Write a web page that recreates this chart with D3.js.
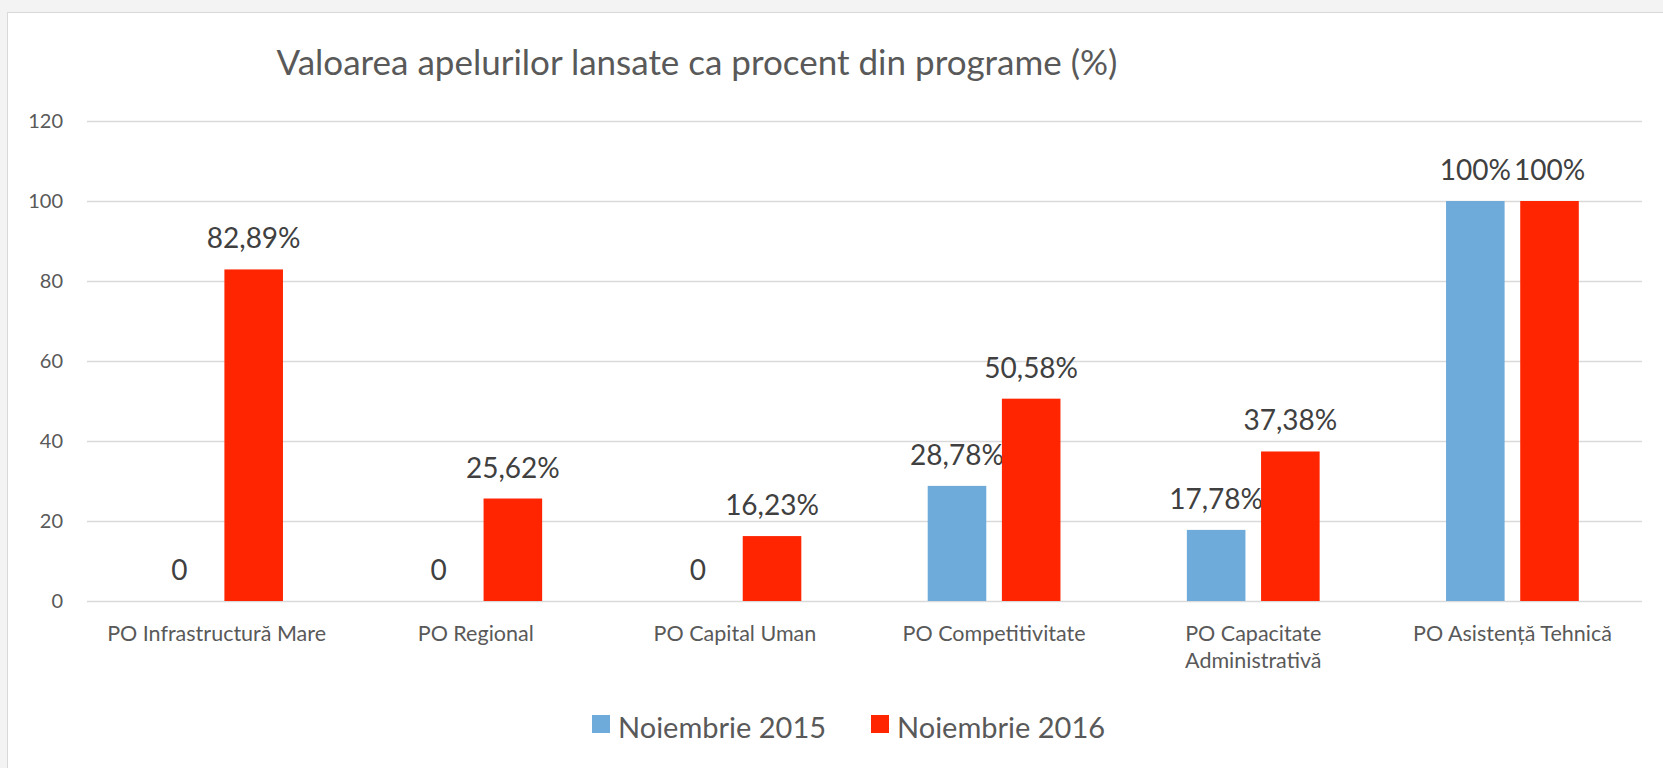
<!DOCTYPE html>
<html>
<head>
<meta charset="utf-8">
<script src="https://cdn.jsdelivr.net/npm/d3@7"></script>
<style>
  html, body { margin: 0; padding: 0; background: #f3f3f3; }
  svg { display: block; }
  text { font-family: Lato, "Open Sans", sans-serif; }
</style>
</head>
<body>
<svg id="chart" width="1663" height="768"></svg>
<script>
const categories = [
  ["PO Infrastructură Mare"],
  ["PO Regional"],
  ["PO Capital Uman"],
  ["PO Competitivitate"],
  ["PO Capacitate", "Administrativă"],
  ["PO Asistență Tehnică"]
];
const seriesNames = ["Noiembrie 2015", "Noiembrie 2016"];
const values2015 = [0, 0, 0, 28.78, 17.78, 100];
const values2016 = [82.89, 25.62, 16.23, 50.58, 37.38, 100];
const yTicks = [0, 20, 40, 60, 80, 100, 120];
const colors = ["#6EABDB", "#FF2500"];
const title = "Valoarea apelurilor lansate ca procent din programe (%)";

const svg = d3.select("#chart");
const W = 1663, H = 768;

// card
svg.append("rect").attr("x", 7.5).attr("y", 12.5).attr("width", W).attr("height", H)
  .attr("fill", "#ffffff").attr("stroke", "#d9d9d9").attr("stroke-width", 1);

const plot = { left: 87, right: 1642, top: 121, bottom: 601 };

const x = d3.scaleBand().domain(d3.range(categories.length))
  .range([plot.left, plot.right]).paddingInner(0).paddingOuter(0);
const y = d3.scaleLinear().domain([0, 120]).range([plot.bottom, plot.top]);

// gridlines
const yAxis = d3.axisLeft(y).tickValues(yTicks).tickSize(-(plot.right - plot.left)).tickPadding(24);
const gy = svg.append("g").attr("transform", `translate(${plot.left},0)`).call(yAxis);
gy.select(".domain").remove();
gy.selectAll(".tick line").attr("stroke", "#d9d9d9").attr("stroke-width", 1.5);
gy.selectAll(".tick text").attr("fill", "#595959").style("font-size", "20px")
  .attr("font-family", "Lato, sans-serif");

// bars
const barW = x.bandwidth() * 0.226;
const offset = 37.1;
const series = [values2015, values2016];
const fmt = v => v === 0 ? "0" : (Number.isInteger(v) ? v + "%" : v.toFixed(2).replace(".", ",") + "%");

series.forEach((vals, si) => {
  const cx = i => x(i) + x.bandwidth() / 2 + (si === 0 ? -offset : offset);
  svg.append("g").selectAll("rect").data(vals).join("rect")
    .attr("x", (d, i) => cx(i) - barW / 2)
    .attr("width", barW)
    .attr("y", d => y(d))
    .attr("height", d => y(0) - y(d))
    .attr("fill", colors[si]);
  svg.append("g").selectAll("text").data(vals).join("text")
    .attr("x", (d, i) => cx(i))
    .attr("y", d => y(d) - 21)
    .attr("text-anchor", "middle")
    .attr("fill", "#404040")
    .style("font-size", "28px")
    .text(d => fmt(d));
});

// category labels
const cat = svg.append("g");
categories.forEach((lines, i) => {
  const t = cat.append("text")
    .attr("x", x(i) + x.bandwidth() / 2)
    .attr("y", 641)
    .attr("text-anchor", "middle")
    .attr("fill", "#595959")
    .style("font-size", "21.5px");
  lines.forEach((l, k) => {
    t.append("tspan").attr("x", x(i) + x.bandwidth() / 2).attr("dy", k === 0 ? 0 : 27).text(l);
  });
});

// title
svg.append("text").attr("x", 697).attr("y", 75).attr("text-anchor", "middle")
  .attr("fill", "#595959").style("font-size", "35px").text(title);

// legend
const legendX = [592, 871];
seriesNames.forEach((name, si) => {
  const g = svg.append("g").attr("transform", `translate(${legendX[si]},715)`);
  g.append("rect").attr("width", 18).attr("height", 18).attr("fill", colors[si]);
  g.append("text").attr("x", 26).attr("y", 22.5).attr("fill", "#595959")
    .style("font-size", "29px").text(name);
});
</script>
</body>
</html>
